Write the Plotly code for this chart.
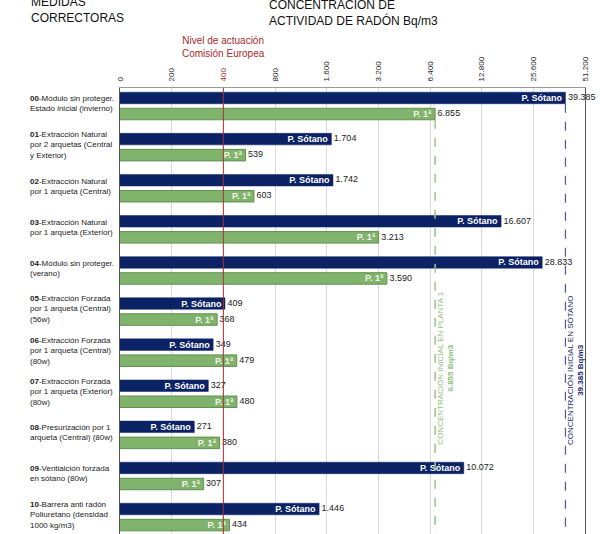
import math
import plotly.graph_objects as go

codes = ["00", "01", "02", "03", "04", "05", "06", "07", "08", "09", "10"]
names = [
    "Módulo sin proteger.<br>Estado inicial (invierno)",
    "Extracción Natural<br>por 2 arquetas (Central<br>y Exterior)",
    "Extracción Natural<br>por 1 arqueta (Central)",
    "Extracción Natural<br>por 1 arqueta (Exterior)",
    "Módulo sin proteger.<br>(verano)",
    "Extracción Forzada<br>por 1 arqueta (Central)<br>(56w)",
    "Extracción Forzada<br>por 1 arqueta (Central)<br>(80w)",
    "Extracción Forzada<br>por 1 arqueta (Exterior)<br>(80w)",
    "Presurización por 1<br>arqueta (Central) (80w)",
    "Ventialción forzada<br>en sótano (80w)",
    "Barrera anti radón<br>Poliuretano (densidad<br>1000 kg/m3)",
]
sotano = [39385, 1704, 1742, 16607, 28833, 409, 349, 327, 271, 10072, 1446]
planta1 = [6855, 539, 603, 3213, 3590, 368, 479, 480, 380, 307, 434]
tick_vals = [100, 200, 400, 800, 1600, 3200, 6400, 12800, 25600, 51200]
tick_text = ["0", "200", "<span style='color:#a52a2a'>400</span>", "800", "1.600",
             "3.200", "6.400", "12.800", "25.600", "51.200"]
nivel_ue = 400
ini_planta = 6855
ini_sotano = 39385

NAVY = "#0b2265"
GREEN = "#80b36b"
GAP = 0.39
BW = 0.28
Y_TOP, Y_BOT = -0.243, 10.607
FONT = "Liberation Sans"


def fmt(v):
    return f"{v:,}".replace(",", ".")


y_s = [i for i in range(len(codes))]
y_p = [i + GAP for i in range(len(codes))]

fig = go.Figure()
fig.add_trace(go.Bar(
    y=y_s, x=sotano, orientation="h", width=BW,
    marker=dict(color=NAVY, line=dict(color=NAVY, width=0.5)),
    text=["P. Sótano"] * len(sotano), textposition="inside", insidetextanchor="end",
    textfont=dict(color="white", size=9, family=FONT),
    texttemplate="<b>%{text}</b>", showlegend=False,
))
fig.add_trace(go.Bar(
    y=y_p, x=planta1, orientation="h", width=BW,
    marker=dict(color=GREEN, line=dict(color="#5f9150", width=1)),
    text=["P. 1ª"] * len(planta1), textposition="inside", insidetextanchor="end",
    textfont=dict(color="#f4f8ee", size=9, family=FONT),
    texttemplate="<b>%{text}</b>", showlegend=False,
))
fig.add_trace(go.Scatter(
    y=y_s + y_p, x=sotano + planta1, mode="text",
    text=["&nbsp;" + fmt(v) for v in sotano + planta1], textposition="middle right",
    textfont=dict(color="#222222", size=9, family=FONT),
    showlegend=False, hoverinfo="skip", cliponaxis=False,
))

# reference lines
fig.add_shape(type="line", xref="x", yref="paper", x0=nivel_ue, x1=nivel_ue, y0=0, y1=1,
              line=dict(color="#a83232", width=1))
fig.add_shape(type="line", xref="x", yref="y", x0=ini_planta, x1=ini_planta,
              y0=GAP + BW / 2, y1=Y_BOT, line=dict(color="#9cc48a", width=1.5, dash="dash"))
fig.add_shape(type="line", xref="x", yref="y", x0=ini_sotano, x1=ini_sotano,
              y0=BW / 2, y1=Y_BOT, line=dict(color="#4a5a95", width=1.2, dash="dash"))

# category labels
for i, (c, n) in enumerate(zip(codes, names)):
    fig.add_annotation(xref="paper", yref="y", x=-0.198, y=i + GAP / 2 - 0.05,
                       text=f"<b>{c}</b>-{n}", showarrow=False, xanchor="left",
                       yanchor="middle", align="left",
                       font=dict(size=8, color="#222222", family=FONT))

# vertical texts
fig.add_annotation(xref="x", yref="paper", x=math.log10(ini_planta), xshift=10, y=0.195,
                   yanchor="bottom",
                   text="CONCENTRACIÓN INICIAL EN PLANTA 1<br><b>6.855 Bq/m3</b>",
                   textangle=-90, showarrow=False, align="center",
                   font=dict(size=8, color="#8fc07a", family=FONT))
fig.add_annotation(xref="x", yref="paper", x=math.log10(ini_sotano), xshift=10, y=0.195,
                   yanchor="bottom",
                   text="CONCENTRACIÓN INICIAL EN SÓTANO<br><b>39.385 Bq/m3</b>",
                   textangle=-90, showarrow=False, align="center",
                   font=dict(size=8, color="#1a2a6a", family=FONT))

# header texts
fig.add_annotation(xref="paper", yref="paper", x=-0.196, y=1.1738, xanchor="left", yanchor="middle",
                   text="MEDIDAS<br>CORRECTORAS", showarrow=False, align="left",
                   font=dict(size=12, color="#111111", family=FONT))
fig.add_annotation(xref="paper", yref="paper", x=0.316, y=1.169, xanchor="left", yanchor="middle",
                   text="CONCENTRACIÓN DE<br>ACTIVIDAD DE RADÓN Bq/m3", showarrow=False, align="left",
                   font=dict(size=12, color="#111111", family=FONT))
fig.add_annotation(xref="x", yref="paper", x=math.log10(nivel_ue), y=1.0919, xanchor="center",
                   yanchor="middle",
                   text="Nivel de actuación<br>Comisión Europea", showarrow=False, align="center",
                   font=dict(size=10, color="#a52a2a", family=FONT))

fig.update_layout(
    width=600, height=534,
    margin=dict(l=120, r=15, t=88, b=0, autoexpand=False),
    plot_bgcolor="white", paper_bgcolor="white",
    barmode="overlay",
    uniformtext=dict(minsize=9, mode="show"),
    font=dict(family=FONT),
    xaxis=dict(type="log", side="top", range=[2, math.log10(51200)], tickvals=tick_vals,
               ticktext=tick_text, tickangle=-90, ticklabelstandoff=4,
               tickfont=dict(size=8, color="#222222"),
               showgrid=True, gridcolor="#d9d9d9", gridwidth=1,
               showline=True, linecolor="#9a9a9a", mirror=True, ticks="", zeroline=False),
    yaxis=dict(range=[Y_BOT, Y_TOP], showticklabels=False, showgrid=False, zeroline=False,
               showline=True, linecolor="#555555", linewidth=1, mirror=True, ticks=""),
)

fig.write_html("out.html", config={"displayModeBar": False},
               post_script="document.body.style.margin='0';")
